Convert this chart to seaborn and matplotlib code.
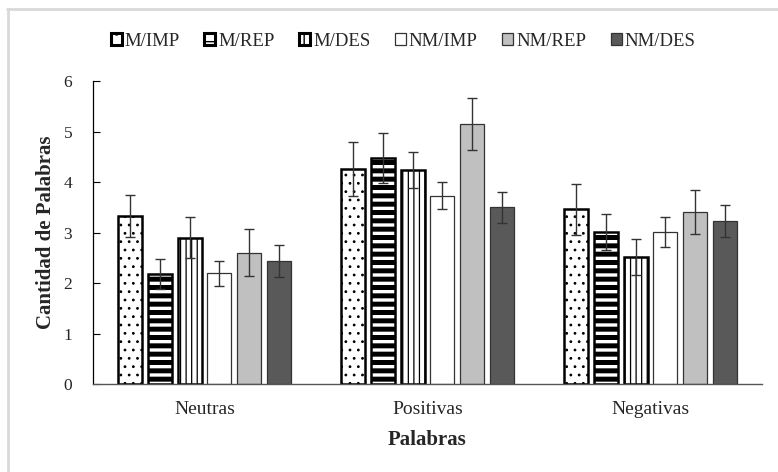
import matplotlib
matplotlib.use("Agg")
import matplotlib.pyplot as plt
import seaborn as sns
import pandas as pd
import numpy as np
from matplotlib.patches import Patch
from matplotlib.lines import Line2D

categories = ["Neutras", "Positivas", "Negativas"]
conditions = ["M/IMP", "M/REP", "M/DES", "NM/IMP", "NM/REP", "NM/DES"]

m_imp = [3.33, 4.26, 3.46]
m_rep = [2.18, 4.48, 3.01]
m_des = [2.90, 4.24, 2.51]
nm_imp = [2.19, 3.73, 3.01]
nm_rep = [2.60, 5.15, 3.41]
nm_des = [2.43, 3.50, 3.23]

m_imp_err = [0.41, 0.54, 0.51]
m_rep_err = [0.30, 0.49, 0.35]
m_des_err = [0.40, 0.36, 0.36]
nm_imp_err = [0.24, 0.27, 0.30]
nm_rep_err = [0.47, 0.51, 0.44]
nm_des_err = [0.32, 0.31, 0.31]

values = [m_imp, m_rep, m_des, nm_imp, nm_rep, nm_des]
errors = [m_imp_err, m_rep_err, m_des_err, nm_imp_err, nm_rep_err, nm_des_err]

face_colors = ["white", "white", "white", "white", "#c0c0c0", "#595959"]
hatches = ["..", "--", "|||", "", "", ""]
legend_hatches = [".", "-", "||", "", "", ""]
edge_widths = [1.8, 1.8, 1.8, 0.9, 0.9, 0.9]
edge_colors = ["black", "black", "black", "#333333", "#333333", "#333333"]
hatch_widths = [0.8, 3.6, 0.9, 1.0, 1.0, 1.0]

rows = []
for cond, vals in zip(conditions, values):
    for cat, v in zip(categories, vals):
        rows.append({"Palabras": cat, "cond": cond, "valor": v})
df = pd.DataFrame(rows)

sns.set_style("white")
plt.rcParams["font.family"] = ["Liberation Serif", "DejaVu Serif"]

fig = plt.figure(figsize=(7.78, 4.72), dpi=100)
ax = fig.add_axes([93 / 778, 1 - 384 / 472, (762 - 93) / 778, (384 - 81) / 472])

sns.barplot(data=df, x="Palabras", y="valor", hue="cond", order=categories,
            hue_order=conditions, palette=dict(zip(conditions, face_colors)),
            errorbar=None, width=0.8, gap=0.2, saturation=1, legend=False, ax=ax)

bar_containers = list(ax.containers)
for i, cont in enumerate(bar_containers):
    for j, bar in enumerate(cont.patches):
        bar.set_facecolor(face_colors[i])
        bar.set_edgecolor(edge_colors[i])
        bar.set_linewidth(edge_widths[i])
        if hatches[i]:
            bar.set_hatch(hatches[i])
            if hasattr(bar, "set_hatch_linewidth"):
                bar.set_hatch_linewidth(hatch_widths[i])
        cx = bar.get_x() + bar.get_width() / 2
        ax.errorbar(cx, values[i][j], yerr=errors[i][j], fmt="none",
                    ecolor="#333333", elinewidth=1.0, capsize=3.9, capthick=1.0, zorder=5)

ax.set_xlim(-0.5, 2.5)
ax.set_ylim(0, 6)
ax.set_yticks(range(0, 7))
ax.set_yticklabels([str(v) for v in range(0, 7)], fontsize=12.5)
ax.set_xticks([0, 1, 2])
ax.set_xticklabels(categories, fontsize=14)
ax.tick_params(axis="x", length=0, pad=12)
ax.set_xticks([-0.5, 0.5, 1.5, 2.5], minor=True)
ax.tick_params(axis="x", which="minor", direction="in", length=4, width=0.8, color="#444444")
ax.tick_params(axis="y", direction="in", length=5, width=0.8, color="black", pad=15, left=True)

for s in ["top", "right"]:
    ax.spines[s].set_visible(False)
ax.spines["left"].set_color("black")
ax.spines["left"].set_linewidth(0.9)
ax.spines["bottom"].set_color("#555555")
ax.spines["bottom"].set_linewidth(1.0)

ax.set_ylabel("Cantidad de Palabras", fontsize=15, fontweight="bold")
ax.yaxis.set_label_coords((56 - 93) / 669, 0.5)
ax.set_xlabel("Palabras", fontsize=15, fontweight="bold", labelpad=9)

handles = []
for i, cond in enumerate(conditions):
    p = Patch(facecolor=face_colors[i], edgecolor=edge_colors[i] if i < 3 else "#333333",
              linewidth=edge_widths[i] + 0.4 if i < 3 else 0.9,
              hatch=legend_hatches[i] if legend_hatches[i] else None, label=cond)
    handles.append(p)
fig.legend(handles=handles, loc="center", bbox_to_anchor=(403 / 778, 1 - 41 / 472), ncol=6,
           frameon=False, fontsize=13.5, handlelength=0.6, handleheight=0.6,
           handletextpad=0.15, columnspacing=1.3, borderaxespad=0)

# light frame (left and top edges visible)
fig.add_artist(Line2D([8 / 778, 8 / 778], [0, 1 - 9 / 472], transform=fig.transFigure,
                      color="#d9d9d9", linewidth=2))
fig.add_artist(Line2D([7 / 778, 1], [1 - 9 / 472, 1 - 9 / 472], transform=fig.transFigure,
                      color="#d9d9d9", linewidth=2))

fig.savefig("out.png", dpi=100)
